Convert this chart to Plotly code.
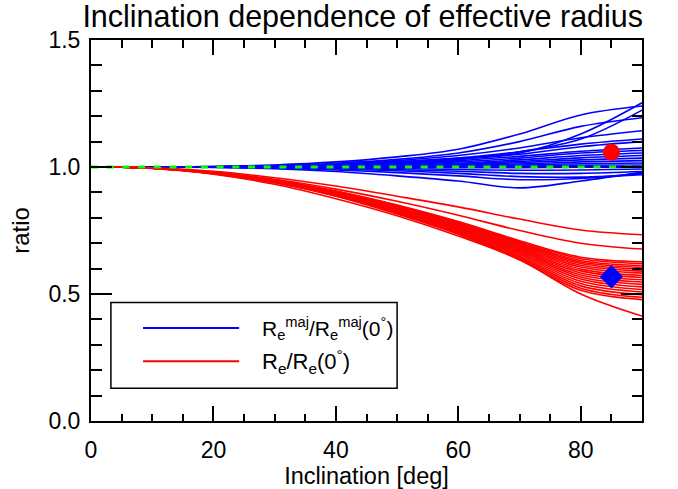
import plotly.graph_objects as go

# ---------------- data ----------------
INCL = [3, 10, 20, 30, 40, 50, 60, 70, 80, 90]

BLUE_CURVES = [
    [1.0, 1.0, 1.002, 1.008, 1.020, 1.040, 1.070, 1.130, 1.205, 1.240],
    [1.0, 1.0, 1.001, 1.004, 1.010, 1.020, 1.035, 1.055, 1.130, 1.253],
    [1.0, 1.0, 1.001, 1.003, 1.008, 1.015, 1.030, 1.060, 1.110, 1.224],
    [1.0, 1.0, 1.002, 1.006, 1.015, 1.030, 1.055, 1.100, 1.160, 1.194],
    [1.0, 1.0, 1.001, 1.005, 1.012, 1.025, 1.045, 1.075, 1.115, 1.143],
    [1.0, 1.0, 1.001, 1.004, 1.010, 1.020, 1.035, 1.060, 1.090, 1.110],
    [1.0, 1.0, 1.001, 1.003, 1.008, 1.016, 1.030, 1.050, 1.080, 1.100],
    [1.0, 1.0, 1.001, 1.003, 1.007, 1.013, 1.025, 1.042, 1.062, 1.075],
    [1.0, 1.0, 1.000, 1.002, 1.005, 1.010, 1.020, 1.035, 1.055, 1.065],
    [1.0, 1.0, 1.000, 1.002, 1.004, 1.008, 1.015, 1.028, 1.045, 1.055],
    [1.0, 1.0, 1.000, 1.001, 1.003, 1.006, 1.012, 1.022, 1.036, 1.045],
    [1.0, 1.0, 1.000, 1.001, 1.002, 1.005, 1.009, 1.017, 1.028, 1.035],
    [1.0, 1.0, 1.000, 1.001, 1.002, 1.004, 1.007, 1.012, 1.020, 1.025],
    [1.0, 1.0, 1.000, 1.000, 1.001, 1.002, 1.004, 1.008, 1.013, 1.016],
    [1.0, 1.0, 1.000, 1.000, 1.000, 1.001, 1.002, 1.004, 1.007, 1.008],
    [1.0, 1.0, 1.000, 1.000, 0.999, 0.998, 0.997, 0.997, 0.999, 1.000],
    [1.0, 1.0, 1.000, 0.999, 0.997, 0.994, 0.990, 0.987, 0.988, 0.992],
    [1.0, 1.0, 0.999, 0.998, 0.995, 0.990, 0.983, 0.975, 0.975, 0.982],
    [1.0, 1.0, 0.999, 0.997, 0.992, 0.985, 0.975, 0.962, 0.960, 0.970],
    [1.0, 1.0, 0.999, 0.995, 0.988, 0.978, 0.965, 0.950, 0.955, 0.975],
    [1.0, 1.0, 0.998, 0.993, 0.982, 0.965, 0.945, 0.918, 0.945, 0.980],
]

RED_CURVES = [
    [1.0, 0.997, 0.983, 0.958, 0.925, 0.885, 0.843, 0.795, 0.752, 0.733],
    [1.0, 0.996, 0.980, 0.952, 0.913, 0.865, 0.810, 0.750, 0.700, 0.677],
    [1.0, 0.996, 0.979, 0.948, 0.905, 0.850, 0.785, 0.710, 0.645, 0.627],
    [1.0, 0.996, 0.979, 0.948, 0.904, 0.848, 0.783, 0.706, 0.639, 0.620],
    [1.0, 0.996, 0.978, 0.947, 0.903, 0.847, 0.780, 0.703, 0.632, 0.612],
    [1.0, 0.996, 0.978, 0.947, 0.902, 0.845, 0.778, 0.699, 0.626, 0.605],
    [1.0, 0.996, 0.978, 0.946, 0.901, 0.843, 0.775, 0.695, 0.620, 0.598],
    [1.0, 0.996, 0.977, 0.946, 0.900, 0.841, 0.773, 0.691, 0.613, 0.590],
    [1.0, 0.995, 0.977, 0.945, 0.899, 0.839, 0.770, 0.687, 0.606, 0.582],
    [1.0, 0.995, 0.977, 0.944, 0.898, 0.837, 0.767, 0.683, 0.598, 0.573],
    [1.0, 0.995, 0.976, 0.944, 0.897, 0.835, 0.764, 0.679, 0.591, 0.565],
    [1.0, 0.995, 0.976, 0.943, 0.895, 0.833, 0.761, 0.674, 0.583, 0.556],
    [1.0, 0.995, 0.976, 0.943, 0.894, 0.831, 0.758, 0.670, 0.575, 0.547],
    [1.0, 0.995, 0.976, 0.942, 0.893, 0.829, 0.755, 0.665, 0.567, 0.538],
    [1.0, 0.995, 0.975, 0.941, 0.892, 0.827, 0.752, 0.660, 0.559, 0.528],
    [1.0, 0.995, 0.975, 0.941, 0.890, 0.824, 0.748, 0.655, 0.550, 0.518],
    [1.0, 0.995, 0.975, 0.940, 0.889, 0.822, 0.745, 0.650, 0.541, 0.508],
    [1.0, 0.995, 0.975, 0.939, 0.888, 0.819, 0.741, 0.645, 0.532, 0.497],
    [1.0, 0.995, 0.975, 0.939, 0.886, 0.817, 0.738, 0.640, 0.523, 0.487],
    [1.0, 0.995, 0.974, 0.938, 0.885, 0.815, 0.735, 0.635, 0.515, 0.478],
    [1.0, 0.994, 0.972, 0.932, 0.875, 0.808, 0.728, 0.635, 0.500, 0.413],
]

REF_X = [0, 90]
REF_Y = [1.0, 1.0]

CIRCLE_X, CIRCLE_Y = [85], [1.058]
DIAMOND_X, DIAMOND_Y = [85], [0.568]

X_TICKS = [0, 20, 40, 60, 80]
Y_TICKS = [0.0, 0.5, 1.0, 1.5]

FONT = "Liberation Sans, Arial, sans-serif"
BLUE = "#0000ff"
RED = "#ff0000"
GREEN = "#00ff00"

# ---------------- figure ----------------
fig = go.Figure()

fig.add_trace(go.Scatter(x=REF_X, y=REF_Y, mode="lines",
                         line=dict(color="black", width=2), showlegend=False))

for ys in BLUE_CURVES:
    fig.add_trace(go.Scatter(x=INCL, y=ys, mode="lines",
                             line=dict(color=BLUE, width=1.6, shape="spline", smoothing=1.0),
                             showlegend=False, hoverinfo="skip"))
for ys in RED_CURVES:
    fig.add_trace(go.Scatter(x=INCL, y=ys, mode="lines",
                             line=dict(color=RED, width=1.6, shape="spline", smoothing=1.0),
                             showlegend=False, hoverinfo="skip"))

fig.add_trace(go.Scatter(x=REF_X, y=REF_Y, mode="lines",
                         line=dict(color=GREEN, width=3, dash="7px,8.7px"), showlegend=False))

fig.add_trace(go.Scatter(x=CIRCLE_X, y=CIRCLE_Y, mode="markers",
                         marker=dict(symbol="circle", size=17, color=RED, line=dict(width=0)),
                         showlegend=False))
fig.add_trace(go.Scatter(x=DIAMOND_X, y=DIAMOND_Y, mode="markers",
                         marker=dict(symbol="diamond", size=18, color=BLUE, line=dict(width=0)),
                         showlegend=False))

# manual legend (box, line samples, labels)
fig.add_shape(type="rect", xref="x", yref="y", x0=3.25, x1=50.0, y0=0.129, y1=0.467,
              line=dict(color="black", width=1.5), fillcolor="white", layer="above")
fig.add_shape(type="line", xref="x", yref="y", x0=8.5, x1=24.2, y0=0.366, y1=0.366,
              line=dict(color=BLUE, width=2), layer="above")
fig.add_shape(type="line", xref="x", yref="y", x0=8.5, x1=24.2, y0=0.235, y1=0.235,
              line=dict(color=RED, width=2), layer="above")
fig.add_annotation(x=27.6, y=0.366, xref="x", yref="y", xanchor="left", yanchor="middle",
                   showarrow=False,
                   text="R<sub>e</sub><sup>maj</sup>/R<sub>e</sub><sup>maj</sup>(0<sup>°</sup>)",
                   font=dict(family=FONT, size=21, color="black"))
fig.add_annotation(x=27.6, y=0.235, xref="x", yref="y", xanchor="left", yanchor="middle",
                   showarrow=False,
                   text="R<sub>e</sub>/R<sub>e</sub>(0<sup>°</sup>)",
                   font=dict(family=FONT, size=22, color="black"))

axis_common = dict(showline=True, linecolor="black", linewidth=2, mirror="allticks",
                   ticks="inside", tickcolor="black", tickwidth=2,
                   showgrid=False, zeroline=False, automargin=False,
                   tickfont=dict(family=FONT, size=23, color="black"))

fig.update_layout(
    width=678, height=489,
    margin=dict(l=91, r=36, t=40, b=68),
    paper_bgcolor="white", plot_bgcolor="white",
    title=dict(text="Inclination dependence of effective radius",
               x=0.535, xanchor="center", y=0.967, yanchor="middle",
               font=dict(family=FONT, size=30.5, color="black")),
    xaxis=dict(range=[0, 90], tickvals=X_TICKS, ticklen=15,
               minor=dict(dtick=5, ticks="inside", ticklen=7.5, tickwidth=2, tickcolor="black"),
               ticklabelstandoff=7,
               title=dict(text="Inclination [deg]", standoff=0,
                          font=dict(family=FONT, size=23.5, color="black")),
               **axis_common),
    yaxis=dict(range=[0, 1.5], tickvals=Y_TICKS, tickformat=".1f", ticklen=21,
               minor=dict(dtick=0.1, ticks="inside", ticklen=10.5, tickwidth=2, tickcolor="black"),
               ticklabelstandoff=4,
               title=dict(text="ratio", standoff=12,
                          font=dict(family=FONT, size=24, color="black")),
               **axis_common),
)

fig.write_html("out.html")
